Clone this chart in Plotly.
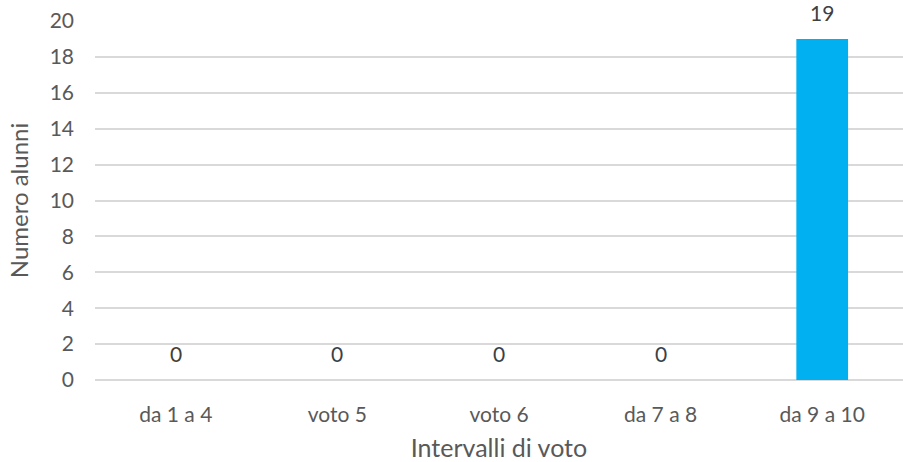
import plotly.graph_objects as go

categories = ["da 1 a 4", "voto 5", "voto 6", "da 7 a 8", "da 9 a 10"]
values = [0, 0, 0, 0, 19]
y_ticks = [0, 2, 4, 6, 8, 10, 12, 14, 16, 18, 20]

font_fam = "Lato, 'Open Sans', sans-serif"
txt = "#595959"

fig = go.Figure(go.Bar(
    x=categories, y=values,
    marker=dict(color="#00B0F0", line=dict(width=0)),
    width=0.32,
    cliponaxis=False,
    hoverinfo="x+y",
))

for c, v in zip(categories, values):
    fig.add_annotation(
        x=c, y=v, xref="x", yref="y",
        text=str(v), showarrow=False,
        yanchor="bottom", yshift=12,
        font=dict(family=font_fam, size=21, color="#404040"),
    )

fig.update_layout(
    width=903, height=462,
    margin=dict(l=95, r=0, t=21, b=82),
    paper_bgcolor="white", plot_bgcolor="white",
    showlegend=False,
    font=dict(family=font_fam, size=21, color=txt),
    xaxis=dict(
        title=dict(text="Intervalli di voto", font=dict(size=25, color=txt), standoff=24),
        tickfont=dict(size=21, color=txt),
        showgrid=False, showline=False, zeroline=False, ticks="",
        ticklabelstandoff=20, automargin=False,
    ),
    yaxis=dict(
        title=dict(text="Numero alunni", font=dict(size=24, color=txt), standoff=14),
        range=[0, 20], tickvals=y_ticks,
        tickfont=dict(size=21, color=txt),
        showgrid=True, gridcolor="#D9D9D9", gridwidth=1.5,
        zeroline=True, zerolinecolor="#D9D9D9", zerolinewidth=1.5,
        showline=False, ticks="", ticklabelstandoff=20, automargin=False,
        ticklabeloverflow="allow",
    ),
)

# remove the browser's default 8px body margin so the figure fills the window exactly
fig.write_html(
    "out.html",
    config={"displayModeBar": False},
    post_script="document.body.style.margin='0';",
)
